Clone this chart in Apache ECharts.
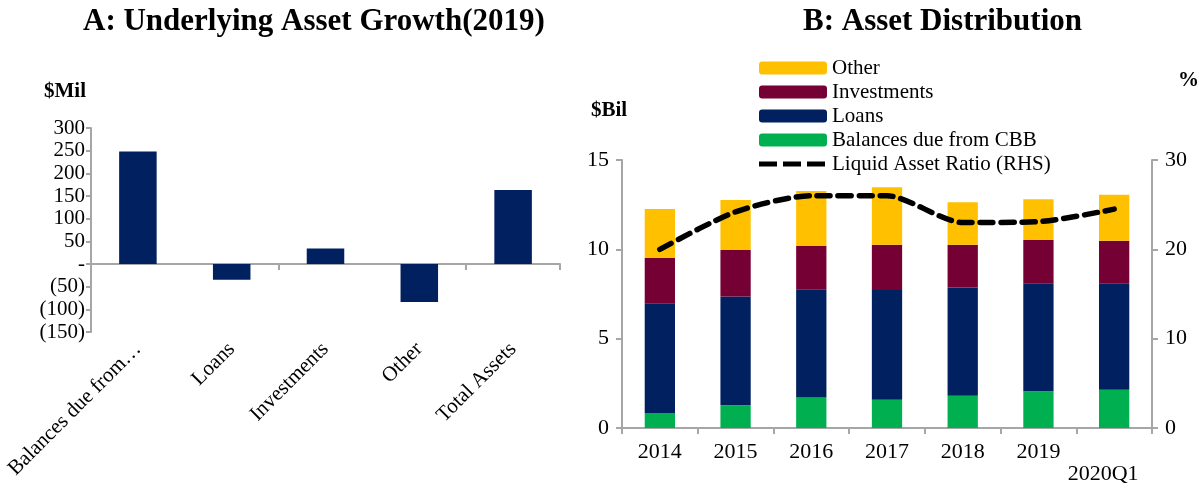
<!DOCTYPE html>
<html>
<head>
<meta charset="utf-8">
<script src="https://cdn.jsdelivr.net/npm/echarts@6/dist/echarts.min.js"></script>
<style>
  html, body { margin: 0; padding: 0; background: #fff; }
  #chart { width: 1199px; height: 489px; }
</style>
</head>
<body>
<div id="chart"></div>
<script>
// Panel A: crecimiento 2019 ($Mil)
const growthCats = ['Balances due from…', 'Loans', 'Investments', 'Other', 'Total Assets'];
const growthVals = [248, -35, 34, -84, 163];

// Panel B: distribución de activos ($Bil) y ratio de liquidez (%)
const years = ['2014', '2015', '2016', '2017', '2018', '2019', '2020Q1'];
const balancesCBB = [0.84, 1.27, 1.71, 1.58, 1.81, 2.05, 2.14];
const loans = [6.14, 6.09, 6.06, 6.15, 6.05, 6.05, 5.96];
const investments = [2.54, 2.60, 2.42, 2.52, 2.39, 2.42, 2.38];
const other = [2.74, 2.80, 3.08, 3.22, 2.39, 2.29, 2.58];
const liquidRatio = [20.0, 24.2, 26.0, 26.0, 23.0, 23.1, 24.5];

const FONT = '"Liberation Serif", "DejaVu Serif", serif';
const GREY = '#a6a6a6';
const NAVY = '#002060';

const axisLine = { show: true, lineStyle: { color: GREY, width: 2 } };
const boldText = (size) => ({ fontFamily: FONT, fontSize: size, fontWeight: 'bold', color: '#000' });

// icono de leyenda: tres trazos (las líneas degeneradas fijan la caja 68x13)
const dashIcon = 'path://M0 0L68 0L0 0Z M0 13L68 13L0 13Z ' +
  'M0 4L18 4L18 9L0 9Z M24 4L42 4L42 9L24 9Z M48 4L66 4L66 9L48 9Z';

const option = {
  animation: false,
  textStyle: { fontFamily: FONT, color: '#000' },
  title: [
    { text: 'A: Underlying Asset Growth(2019)', left: 78, top: 1, textStyle: boldText(31) },
    { text: 'B: Asset Distribution', left: 798, top: 1, textStyle: boldText(31) },
    { text: '$Mil', left: 39, top: 76, textStyle: boldText(21) },
    { text: '$Bil', left: 586, top: 95, textStyle: boldText(21) },
    { text: '%', left: 1173, top: 65, textStyle: boldText(21) }
  ],
  legend: {
    data: [
      'Other', 'Investments', 'Loans', 'Balances due from CBB',
      { name: 'Liquid Asset Ratio (RHS)', icon: dashIcon, itemStyle: { color: '#000' } }
    ],
    orient: 'vertical',
    left: 754,
    top: 51,
    itemWidth: 68,
    itemHeight: 13,
    itemGap: 0,
    textStyle: { fontFamily: FONT, fontSize: 21, color: '#000', lineHeight: 24 }
  },
  grid: [
    { left: 91, right: 639, top: 128, bottom: 157 },
    { left: 622, right: 47, top: 160, bottom: 61 }
  ],
  xAxis: [
    {
      gridIndex: 0, type: 'category', data: growthCats, position: 'bottom',
      axisLine: { show: false, onZero: false }, axisTick: { show: false },
      axisLabel: { rotate: 45, fontSize: 21, color: '#000', margin: 14, interval: 0 }
    },
    {
      gridIndex: 0, type: 'category', data: growthCats, position: 'bottom',
      axisLine: { show: true, onZero: true, lineStyle: { color: GREY, width: 2 } },
      axisTick: { show: true, length: 6, lineStyle: { color: GREY, width: 2 } },
      axisLabel: { show: false }
    },
    {
      gridIndex: 1, type: 'category', data: years,
      axisLine: axisLine,
      axisTick: { show: true, length: 6, lineStyle: { color: GREY, width: 2 } },
      axisLabel: {
        fontSize: 22, color: '#000', margin: 13, interval: 0,
        formatter: function (v) { return v === '2020Q1' ? '{q|' + v + '}' : v; },
        rich: { q: { fontSize: 22, fontFamily: FONT, color: '#000', padding: [22, 22, 0, 0] } }
      }
    }
  ],
  yAxis: [
    {
      gridIndex: 0, type: 'value', min: -150, max: 300, interval: 50,
      axisLine: axisLine,
      axisTick: { show: true, length: 5, lineStyle: { color: GREY, width: 2 } },
      splitLine: { show: false },
      axisLabel: {
        fontSize: 21, color: '#000', margin: 6,
        formatter: function (v) { return v === 0 ? '-' : (v < 0 ? '(' + (-v) + ')' : String(v)); }
      }
    },
    {
      gridIndex: 1, type: 'value', min: 0, max: 15, interval: 5,
      axisLine: axisLine,
      axisTick: { show: true, length: 6, lineStyle: { color: GREY, width: 2 } },
      splitLine: { show: false },
      axisLabel: { fontSize: 22, color: '#000', margin: 13 }
    },
    {
      gridIndex: 1, type: 'value', min: 0, max: 30, interval: 10, position: 'right',
      axisLine: axisLine,
      axisTick: { show: true, length: 6, lineStyle: { color: GREY, width: 2 } },
      splitLine: { show: false },
      axisLabel: { fontSize: 22, color: '#000', margin: 13 }
    }
  ],
  series: [
    {
      name: 'Growth', type: 'bar', xAxisIndex: 0, yAxisIndex: 0,
      data: growthVals, barWidth: '40%', itemStyle: { color: NAVY }
    },
    {
      name: 'Balances due from CBB', type: 'bar', stack: 'assets', xAxisIndex: 2, yAxisIndex: 1,
      data: balancesCBB, barWidth: '40%', itemStyle: { color: '#00b050' }
    },
    {
      name: 'Loans', type: 'bar', stack: 'assets', xAxisIndex: 2, yAxisIndex: 1,
      data: loans, barWidth: '40%', itemStyle: { color: NAVY }
    },
    {
      name: 'Investments', type: 'bar', stack: 'assets', xAxisIndex: 2, yAxisIndex: 1,
      data: investments, barWidth: '40%', itemStyle: { color: '#750033' }
    },
    {
      name: 'Other', type: 'bar', stack: 'assets', xAxisIndex: 2, yAxisIndex: 1,
      data: other, barWidth: '40%', itemStyle: { color: '#ffc000' }
    },
    {
      name: 'Liquid Asset Ratio (RHS)', type: 'line', xAxisIndex: 2, yAxisIndex: 2,
      data: liquidRatio, smooth: 0.25, symbol: 'none', z: 5,
      lineStyle: { color: '#000', width: 5.5, type: [13, 8], cap: 'round' },
      itemStyle: { color: '#000' }
    }
  ]
};

const chart = echarts.init(document.getElementById('chart'), null, { renderer: 'canvas' });
chart.setOption(option);
</script>
</body>
</html>
